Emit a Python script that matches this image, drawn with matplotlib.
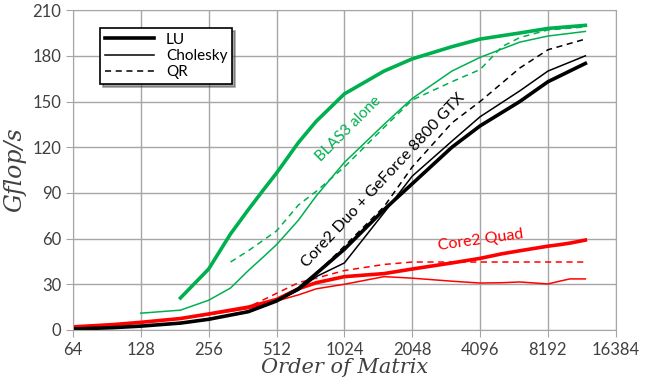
import matplotlib.pyplot as plt
import numpy as np

# matrix orders and Gflop/s
n_blas_lu = [192, 256, 320, 384, 448, 512, 640, 768, 1024, 1536, 2048, 3072, 4096, 6144, 8192, 12000]
blas_lu = [21, 40, 63, 79, 92, 103, 123, 137, 155, 170, 178, 186, 191, 195, 198, 200]

n_blas_chol = [128, 192, 256, 320, 384, 448, 512, 640, 768, 1024, 1536, 2048, 3072, 4096, 6144, 8192, 12000]
blas_chol = [11, 13, 19.5, 27.5, 39, 48, 56, 72, 88, 110, 135, 152, 170, 179, 189, 193, 196]

n_blas_qr = [320, 384, 448, 512, 640, 768, 1024, 1536, 2048, 3072, 4096, 5120, 6144, 8192, 12000]
blas_qr = [44.6, 52, 59, 65, 82, 91, 107, 133, 151, 163, 171, 186, 192, 197, 199]

n_gpu = [64, 96, 128, 192, 256, 384, 512, 640, 768, 1024, 1536, 2048, 3072, 4096, 6144, 8192, 12000]
gpu_lu = [0.6, 1.5, 2.5, 4.5, 7, 12, 19, 27, 37, 53, 79, 96, 120, 134, 150, 163, 175]
gpu_chol = [0.6, 1.5, 2.5, 4.5, 7, 12, 19, 26, 35, 44, 77, 101, 124, 140, 157, 170, 180]
gpu_qr = [0.6, 1.5, 2.5, 4.5, 7, 12, 19, 27, 37, 55, 81, 107, 136, 150, 172, 184, 191]

n_cpu = [64, 96, 128, 192, 256, 384, 512, 640, 768, 1024, 1536, 2048, 3072, 4096, 5120, 6144, 8192, 9216, 10240, 12000]
cpu_lu = [2, 3.5, 5, 7.5, 10.5, 15, 20, 27, 31, 35, 37, 40, 44, 47, 50, 52, 55, 56, 57, 59]
cpu_chol = [2, 3.5, 5, 7.5, 10, 14, 19, 23, 27, 30, 35, 34, 32, 30.8, 31, 31.5, 30.2, 32, 33.5, 33.5]
cpu_qr = [2, 3.5, 5, 7.5, 10, 15, 24, 31, 34, 39, 43, 44.6, 44.6, 44.6, 44.6, 44.6, 44.6, 44.6, 44.6, 44.6]

green = '#00B050'
red = '#FF0000'
thick, thin = 2.6, 1.1

fig = plt.figure(figsize=(6.51, 3.90), dpi=100)
ax = fig.add_axes([0.112, 0.154, 0.834, 0.820])

ax.plot(n_blas_lu, blas_lu, color=green, lw=thick)
ax.plot(n_blas_chol, blas_chol, color=green, lw=thin)
ax.plot(n_blas_qr, blas_qr, color=green, lw=thin, ls=(0, (4, 3)))

ax.plot(n_cpu, cpu_lu, color=red, lw=thick)
ax.plot(n_cpu, cpu_chol, color=red, lw=thin)
ax.plot(n_cpu, cpu_qr, color=red, lw=thin, ls=(0, (4, 3)))

ax.plot(n_gpu, gpu_lu, color='black', lw=thick, label='LU')
ax.plot(n_gpu, gpu_chol, color='black', lw=thin, label='Cholesky')
ax.plot(n_gpu, gpu_qr, color='black', lw=thin, ls=(0, (4, 3)), label='QR')

ax.set_xscale('log', base=2)
xt = [64, 128, 256, 512, 1024, 2048, 4096, 8192, 16384]
ax.set_xticks(xt)
ax.set_xticklabels([str(v) for v in xt])
ax.minorticks_off()
ax.set_xlim(64, 16384)
ax.set_ylim(0, 210)
ax.set_yticks(range(0, 211, 30))

ax.grid(True, color='#A6A6A6', lw=1)
ax.set_axisbelow(True)
for s in ax.spines.values():
    s.set_color('#A6A6A6')
ax.tick_params(colors='#A6A6A6', labelcolor='#404040', labelsize=12, length=5, direction='out')
for lab in ax.get_xticklabels() + ax.get_yticklabels():
    lab.set_family('Lato')

ax.set_xlabel('Order of Matrix', family='DejaVu Serif', style='italic', fontsize=15, color='#404040', labelpad=0)
ax.set_ylabel('Gflop/s', family='DejaVu Serif', style='italic', fontsize=17, color='#404040', labelpad=1)
ax.yaxis.set_label_coords(-0.085, 0.5)

ax.text(1070, 132, 'BLAS3 alone', color=green, rotation=45, fontsize=11, family='Lato',
        ha='center', va='center')
ax.text(1516, 98, 'Core2 Duo + GeForce 8800 GTX', color='black', rotation=47, fontsize=11.5, family='Lato',
        ha='center', va='center')
ax.text(4100, 59, 'Core2 Quad', color=red, rotation=8, fontsize=11.5, family='Lato',
        ha='center', va='center')

leg = ax.legend(loc='upper left', bbox_to_anchor=(0.05, 0.944), borderaxespad=0, frameon=True, fancybox=False,
                shadow=True, edgecolor='black', handlelength=3.2,
                borderpad=0.3, labelspacing=0.15, prop={'family': 'Lato', 'size': 11})
leg.get_frame().set_linewidth(1.2)

fig.savefig('out.png', dpi=100)
